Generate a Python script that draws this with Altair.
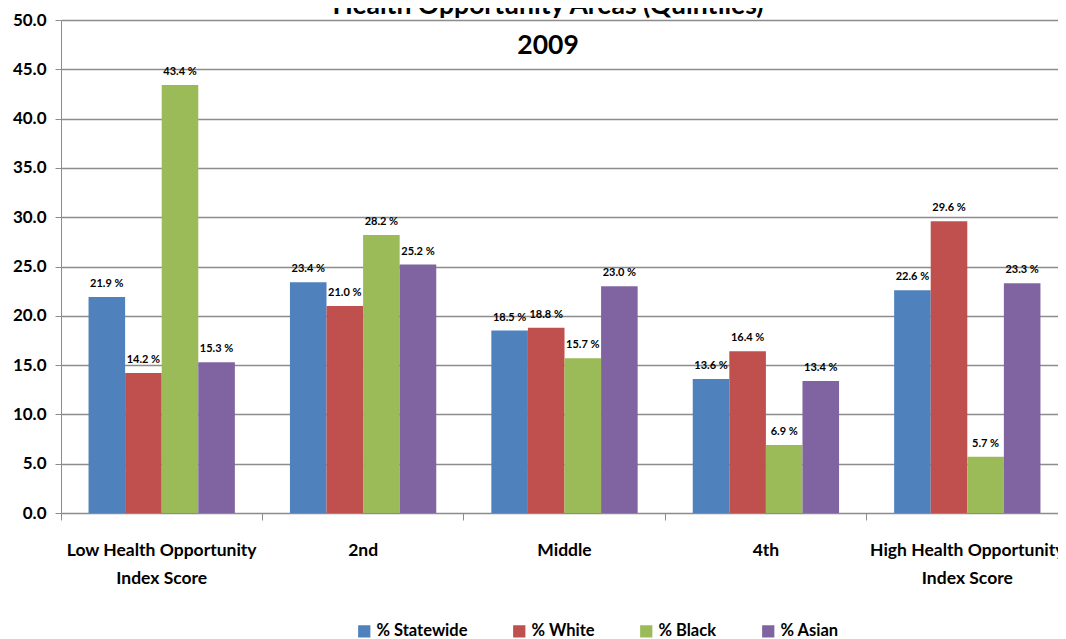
import altair as alt
import pandas as pd

categories = ["Low Health Opportunity\nIndex Score", "2nd", "Middle", "4th",
              "High Health Opportunity\nIndex Score"]
series = ["% Statewide", "% White", "% Black", "% Asian"]
statewide = [21.9, 23.4, 18.5, 13.6, 22.6]
white = [14.2, 21.0, 18.8, 16.4, 29.6]
black = [43.4, 28.2, 15.7, 6.9, 5.7]
asian = [15.3, 25.2, 23.0, 13.4, 23.3]
colors = ["#4F81BD", "#C0504D", "#9BBB59", "#8064A2"]
title_lines = ["Health Opportunity Areas (Quintiles)", "2009"]

rows = []
for s, vals in zip(series, [statewide, white, black, asian]):
    for c, v in zip(categories, vals):
        rows.append({"cat": c, "series": s, "value": v})
df = pd.DataFrame(rows)

FONT = "Lato"
GRID = "#8C8C8C"
X_SCALE = alt.Scale(paddingInner=0, paddingOuter=0, range=[0, 1007])
NB = "\u00a0" * 4
LABEL_EXPR = ("indexof(datum.value, 'High') == 0 ? [split(datum.value, '\\n')[0] + '" + NB +
              "', split(datum.value, '\\n')[1]] : split(datum.value, '\\n')")

x_enc = alt.X("cat:N", sort=categories, title=None, scale=X_SCALE,
              axis=alt.Axis(labelExpr=LABEL_EXPR, labelAngle=0,
                            labelFont=FONT, labelFontSize=17.5, labelFontWeight="bold",
                            labelColor="black", labelPadding=28, labelLineHeight=28,
                            labelBaseline="top", labelLimit=0,
                            ticks=False, domain=True, domainColor=GRID, grid=False))
xo_enc = alt.XOffset("series:N", sort=series,
                     scale=alt.Scale(paddingInner=0, paddingOuter=0.753))
y_enc = alt.Y("value:Q", title=None,
              scale=alt.Scale(domain=[0, 50], nice=False),
              axis=alt.Axis(values=list(range(0, 55, 5)), format=".1f",
                            labelFont=FONT, labelFontSize=17, labelFontWeight="bold",
                            labelColor="black", labelPadding=9,
                            tickSize=6, tickColor=GRID, domainColor=GRID,
                            gridColor=GRID, gridWidth=1.3))

base = alt.Chart(df)

bars = base.mark_bar().encode(
    x=x_enc, xOffset=xo_enc, y=y_enc,
    color=alt.Color("series:N", sort=series,
                    scale=alt.Scale(domain=series, range=colors),
                    legend=alt.Legend(title=None, orient="none", direction="horizontal",
                                      legendX=295, legendY=603,
                                      symbolType="square", symbolSize=150,
                                      symbolStrokeWidth=0, symbolOffset=0,
                                      labelFont=FONT, labelFontSize=16.5,
                                      labelFontWeight="bold", labelColor="black",
                                      labelOffset=4, columnPadding=43)),
)

labels = base.transform_calculate(
    lab="format(datum.value, '.1f') + ' %'"
).mark_text(font=FONT, fontSize=11, fontWeight="bold", color="black",
            baseline="middle", dy=-13).encode(
    x=alt.X("cat:N", sort=categories, axis=None), xOffset=xo_enc, y="value:Q",
    text="lab:N")

ticks = base.mark_point(opacity=0).encode(
    x=alt.X("cat:N", sort=categories, title=None,
            axis=alt.Axis(orient="bottom", labels=False, domain=False, grid=False,
                          ticks=True, bandPosition=0, tickSize=7, tickColor=GRID)),
    y="value:Q")

tdf = pd.DataFrame({"t": title_lines, "i": [0, 1]})
title1 = alt.Chart(tdf).transform_filter("datum.i == 0").mark_text(
    font=FONT, fontSize=26.5, fontWeight="bold", color="black",
    baseline="alphabetic", align="center").encode(
    text="t:N", x=alt.value(487), y=alt.value(-6))
title2 = alt.Chart(tdf).transform_filter("datum.i == 1").mark_text(
    font=FONT, fontSize=26.5, fontWeight="bold", color="black",
    baseline="alphabetic", align="center").encode(
    text="t:N", x=alt.value(487), y=alt.value(34))

chart = alt.layer(bars, labels, ticks, title1, title2).resolve_axis(
    x="independent").resolve_scale(x="shared").properties(
    width=997, height=493,
    autosize=alt.AutoSizeParams(type="none"),
    padding={"left": 53, "top": 12, "right": 0, "bottom": 126},
).configure_view(stroke=None).configure_axisY(gridOpacity=1)

chart.save("out.html", embed_options={"renderer": "svg", "actions": False})
